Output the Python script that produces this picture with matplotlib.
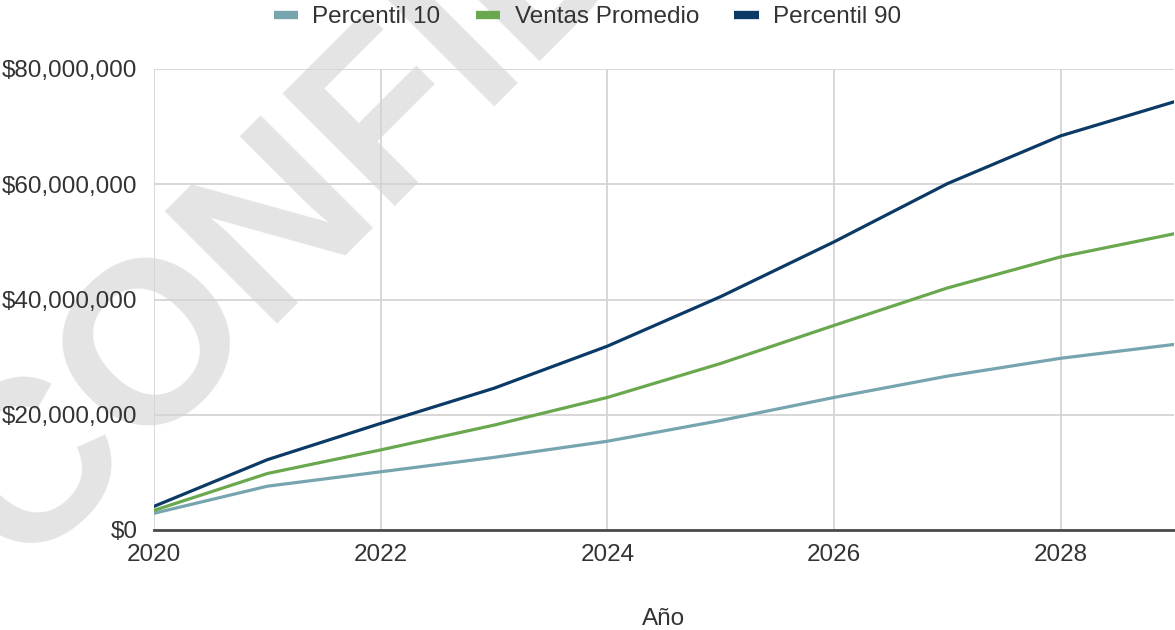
import matplotlib.pyplot as plt
from matplotlib.lines import Line2D
from matplotlib.ticker import FuncFormatter

# Proyección anual de ventas (USD)
years = [2020, 2021, 2022, 2023, 2024, 2025, 2026, 2027, 2028, 2029]
p10 = [2.9e6, 7.6e6, 10.1e6, 12.6e6, 15.4e6, 19.0e6, 23.0e6, 26.7e6, 29.8e6, 32.2e6]
ventas_promedio = [3.4e6, 9.8e6, 13.9e6, 18.2e6, 23.0e6, 28.9e6, 35.5e6, 42.0e6, 47.4e6, 51.4e6]
p90 = [4.1e6, 12.2e6, 18.5e6, 24.6e6, 31.9e6, 40.5e6, 50.0e6, 60.1e6, 68.4e6, 74.3e6]

series_names = ["Percentil 10", "Ventas Promedio", "Percentil 90"]
colors = ["#76a5af", "#6aa84f", "#0b3a66"]

x_ticks = [2020, 2022, 2024, 2026, 2028]
y_ticks = [0, 20e6, 40e6, 60e6, 80e6]


def main():
    plt.rcParams["font.family"] = ["Liberation Sans", "DejaVu Sans"]
    fig = plt.figure(figsize=(11.75, 6.3), dpi=100)
    ax = fig.add_axes([154 / 1175, 1 - 530 / 630, 1020 / 1175, 461 / 630])
    ax.set_facecolor("none")

    # watermark sits behind the axes, anchored at the start of its baseline
    fig.text(20 / 1175, 1 - 572 / 630, "CONFIDENTIAL", fontsize=166, fontweight="bold",
             color="#e4e4e4", rotation=45, rotation_mode="anchor",
             ha="left", va="baseline", zorder=-1)

    for vals, name, c in zip([p10, ventas_promedio, p90], series_names, colors):
        ax.plot(years, vals, color=c, lw=2.3, label=name, zorder=3,
                solid_joinstyle="round")

    ax.set_xlim(2020, 2029)
    ax.set_ylim(0, 80e6)
    ax.set_xticks(x_ticks)
    ax.set_yticks(y_ticks)
    ax.yaxis.set_major_formatter(FuncFormatter(lambda v, pos: f"${v:,.0f}"))

    ax.grid(True, color="#d4d4d4", lw=1.3)
    ax.set_axisbelow(True)
    for side in ["top", "right", "left"]:
        ax.spines[side].set_visible(False)
    ax.spines["bottom"].set_color("#4a4a4a")
    ax.spines["bottom"].set_linewidth(2)
    ax.spines["bottom"].set_zorder(4)

    ax.tick_params(length=0, labelsize=17.5, labelcolor="#333333")
    ax.tick_params(axis="x", pad=10)
    ax.tick_params(axis="y", pad=12)

    ax.set_xlabel("Año", fontsize=17.5, color="#333333", labelpad=30)

    handles = [Line2D([], [], color=c, lw=6, solid_capstyle="butt") for c in colors]
    fig.legend(handles, series_names, loc="center", bbox_to_anchor=(0.5, 1 - 17 / 630),
               ncol=3, frameon=False, fontsize=17.5, handlelength=1.0,
               handletextpad=0.6, columnspacing=1.45, labelcolor="#333333")

    fig.savefig("out.png", dpi=100)


if __name__ == "__main__":
    main()
